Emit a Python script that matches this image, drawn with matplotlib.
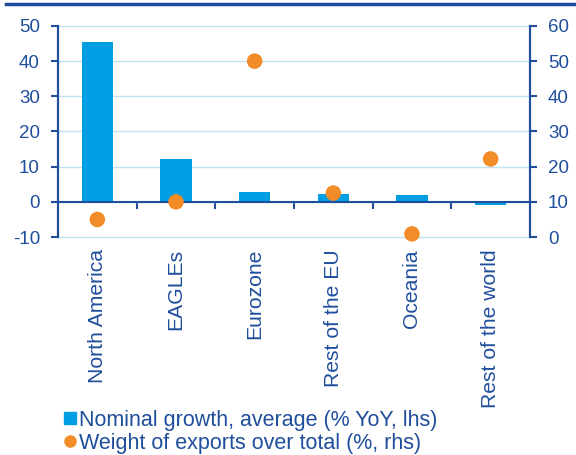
import matplotlib.pyplot as plt
import numpy as np
from matplotlib.lines import Line2D
from matplotlib.ticker import FixedLocator

plt.rcParams['font.family'] = ['Liberation Sans', 'DejaVu Sans']
plt.rcParams['axes.unicode_minus'] = False

regions = ['North America', 'EAGLEs', 'Eurozone', 'Rest of the EU', 'Oceania', 'Rest of the world']
growth = [45.5, 12.2, 2.8, 2.1, 2.0, -0.8]      # lhs, % YoY
weight = [5.0, 10.0, 50.0, 12.5, 0.9, 22.2]     # rhs, %

dark = '#1F4E9C'
bar_col = '#009FE3'
dot_col = '#F28C28'
grid_col = '#BFE3F5'

fig = plt.figure(figsize=(5.76, 4.55), dpi=100)
ax = fig.add_axes([0.1007, 0.479, 0.8194, 0.464])
ax2 = ax.twinx()

x = np.arange(len(regions))
ax.bar(x, growth, width=0.4, color=bar_col, zorder=2)
ax2.scatter(x, weight, s=125, color=dot_col, zorder=3, edgecolors='none', clip_on=False)

ax.set_xlim(-0.5, len(regions) - 0.5)
ax.set_ylim(-10, 50)
ax.set_yticks(range(-10, 51, 10))
ax2.set_ylim(0, 60)
ax2.set_yticks(range(0, 61, 10))

ax.grid(axis='y', color=grid_col, linewidth=1, zorder=0)
for gl in ax.get_ygridlines():
    gl.set_clip_on(False)
ax.set_axisbelow(True)

for a in (ax, ax2):
    a.spines['top'].set_visible(False)
    a.spines['left'].set_color(dark)
    a.spines['right'].set_color(dark)
    a.spines['left'].set_linewidth(1.5)
    a.spines['right'].set_linewidth(1.5)
    a.tick_params(axis='y', colors=dark, labelsize=13.5, width=1.5, length=5, pad=8)
ax2.spines['bottom'].set_visible(False)

# zero line with category separators, labels below the chart
ax.spines['bottom'].set_position(('data', 0))
ax.spines['bottom'].set_color(dark)
ax.spines['bottom'].set_linewidth(1.5)
ax.set_xticks(x)
ax.set_xticklabels(regions, rotation=90, va='top', ha='center')
ax.tick_params(axis='x', length=0, pad=34, labelsize=15.2, labelcolor=dark)
ax.xaxis.set_minor_locator(FixedLocator(x[:-1] + 0.5))
ax.tick_params(axis='x', which='minor', length=5, width=1.5, color=dark)

# cut-off header rule at the top
fig.add_artist(Line2D([0.01, 1.0], [0.991, 0.991], color=dark, linewidth=2.5))

handles = [
    Line2D([], [], marker='s', linestyle='none', color=bar_col, markersize=8),
    Line2D([], [], marker='o', linestyle='none', color=dot_col, markersize=8),
]
fig.legend(handles, ['Nominal growth, average (% YoY, lhs)', 'Weight of exports over total (%, rhs)'],
           loc='lower left', bbox_to_anchor=(0.093, -0.016), frameon=False, fontsize=15.5,
           labelcolor=dark, handletextpad=0.1, handlelength=0.7, labelspacing=0.1,
           borderaxespad=0)

fig.savefig('out.png', dpi=100)
